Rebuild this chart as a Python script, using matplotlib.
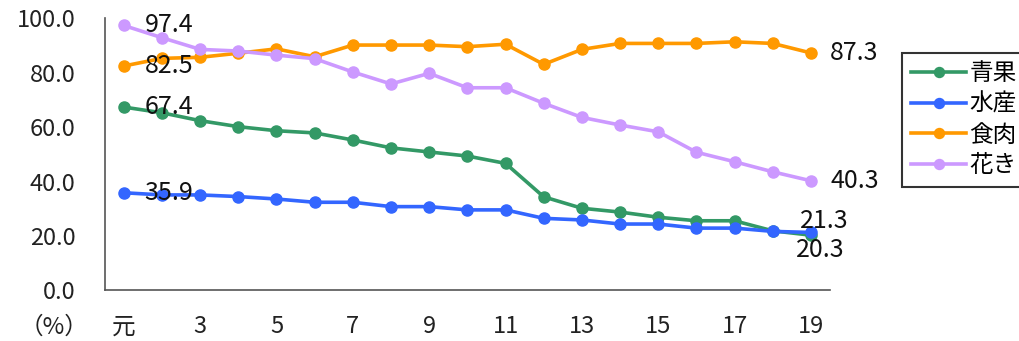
import matplotlib
matplotlib.use("Agg")
import matplotlib.pyplot as plt

plt.rcParams['font.family'] = ['Noto Sans CJK JP', 'DejaVu Sans']

years = list(range(1, 20))
tick_labels = ['元', '3', '5', '7', '9', '11', '13', '15', '17', '19']
tick_positions = [1, 3, 5, 7, 9, 11, 13, 15, 17, 19]

seika = [67.4, 65.3, 62.4, 60.2, 58.7, 57.9, 55.3, 52.4, 50.9, 49.4,
         46.7, 34.4, 30.2, 28.8, 26.9, 25.6, 25.6, 21.9, 20.3]
suisan = [35.9, 35.1, 35.1, 34.5, 33.6, 32.4, 32.4, 30.8, 30.8, 29.6,
          29.6, 26.5, 25.9, 24.4, 24.4, 22.9, 22.9, 21.7, 21.3]
shokuniku = [82.5, 85.3, 85.7, 87.2, 88.8, 85.9, 90.2, 90.2, 90.2, 89.6,
             90.5, 83.1, 88.6, 90.8, 90.8, 90.8, 91.4, 90.8, 87.3]
kaki = [97.4, 92.9, 88.6, 88.0, 86.5, 85.2, 80.3, 75.9, 79.8, 74.5,
        74.5, 68.8, 63.6, 60.8, 58.3, 50.8, 47.3, 43.6, 40.3]

series = [('青果', seika, '#339966'),
          ('水産', suisan, '#3366FF'),
          ('食肉', shokuniku, '#FF9900'),
          ('花き', kaki, '#CC99FF')]

W, H = 1019, 341
fig = plt.figure(figsize=(W / 100, H / 100), dpi=100)
ax = fig.add_axes([104.7 / W, 1 - 290.4 / H, (830 - 104.7) / W, (290.4 - 18.4) / H])

for name, vals, col in series:
    ax.plot(years, vals, color=col, lw=2.6, marker='o', ms=8, label=name)

ax.set_xlim(0.5, 19.5)
ax.set_ylim(0, 100)
ax.set_yticks([0, 20, 40, 60, 80, 100])
ax.set_yticklabels([f'{v:.1f}' for v in [0, 20, 40, 60, 80, 100]])
ax.set_xticks(tick_positions)
ax.set_xticklabels(tick_labels)
ax.tick_params(axis='both', length=0, labelsize=17, colors='#222222')
ax.tick_params(axis='x', pad=18)
ax.tick_params(axis='y', pad=21)
for s in ['top', 'right']:
    ax.spines[s].set_visible(False)
for s in ['left', 'bottom']:
    ax.spines[s].set_color('#555555')
    ax.spines[s].set_linewidth(1.2)

fs = 18
# start labels
for vals in [kaki, shokuniku, seika, suisan]:
    ax.annotate(f'{vals[0]:.1f}', (years[0], vals[0]), xytext=(15, 0),
                textcoords='offset points', ha='left', va='center', fontsize=fs,
                color='#111111')
# end labels
ax.annotate(f'{shokuniku[-1]:.1f}', (years[-1], shokuniku[-1]), xytext=(14, 0),
            textcoords='offset points', ha='left', va='center', fontsize=fs, color='#111111')
ax.annotate(f'{kaki[-1]:.1f}', (years[-1], kaki[-1]), xytext=(14, 0),
            textcoords='offset points', ha='left', va='center', fontsize=fs, color='#111111')
ax.annotate(f'{suisan[-1]:.1f}', (years[-1], suisan[-1]), xytext=(-8, 8),
            textcoords='offset points', ha='left', va='center', fontsize=fs, color='#111111')
ax.annotate(f'{seika[-1]:.1f}', (years[-1], seika[-1]), xytext=(-11, -11),
            textcoords='offset points', ha='left', va='center', fontsize=fs, color='#111111')

fig.text(54 / W, 1 - 327 / H, '（%）', ha='center', va='center', fontsize=17, color='#222222')

leg = ax.legend(loc='upper left', bbox_to_anchor=(902 / W, 1 - 53 / H),
                bbox_transform=fig.transFigure,
                frameon=True, fancybox=False, edgecolor='black', fontsize=17,
                handlelength=2.3, borderpad=0.4, labelspacing=0.32, handletextpad=0.15,
                borderaxespad=0, markerscale=0.9)
leg.get_frame().set_linewidth(1.5)

fig.savefig('out.png', dpi=100)
